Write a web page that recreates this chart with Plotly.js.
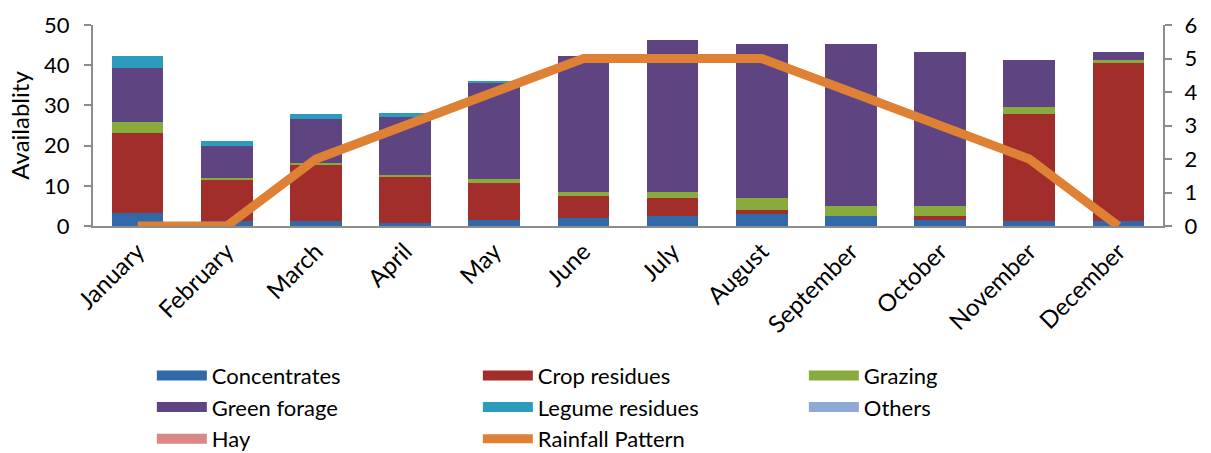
<!DOCTYPE html>
<html>
<head>
<meta charset="utf-8">
<script src="https://cdn.plot.ly/plotly-3.0.1.min.js"></script>
<style>html,body{margin:0;padding:0;background:#fff;}#chart{width:1211px;height:453px;}</style>
</head>
<body>
<div id="chart"></div>
<script>
var months = ["January","February","March","April","May","June","July","August","September","October","November","December"];
var concentrates   = [3.2, 1.2, 1.2, 0.7, 1.4, 1.9, 2.6, 2.9, 2.4, 1.6, 1.2, 1.2];
var cropResidues   = [19.9, 10.2, 13.9, 11.4, 9.2, 5.5, 4.3, 1.0, 0, 1.0, 26.6, 39.3];
var grazing        = [2.7, 0.5, 0.5, 0.7, 1.0, 1.0, 1.5, 3.0, 2.5, 2.5, 1.7, 0.7];
var greenForage    = [13.5, 8.0, 10.9, 14.2, 24.0, 33.8, 37.8, 38.3, 40.3, 38.1, 11.7, 2.0];
var legumeResidues = [2.9, 1.2, 1.3, 1.0, 0.4, 0, 0, 0, 0, 0, 0, 0];
var others         = [0, 0, 0, 0, 0, 0, 0, 0, 0, 0, 0, 0];
var hay            = [0, 0, 0, 0, 0, 0, 0, 0, 0, 0, 0, 0];
var rainfall       = [0, 0, 2, 3, 4, 5, 5, 5, 4, 3, 2, 0];

var seriesNames  = ["Concentrates","Crop residues","Grazing","Green forage","Legume residues","Others","Hay"];
var seriesColors = ["#3168A8","#A22E2C","#89AA3C","#5F4482","#2C9CBD","#8FA9D6","#D98886"];
var seriesValues = [concentrates, cropResidues, grazing, greenForage, legumeResidues, others, hay];

var fontFam = "Lato, 'Open Sans', sans-serif";
var traces = [];
seriesNames.forEach(function (n, i) {
  traces.push({type: "bar", name: n, x: months, y: seriesValues[i], legendgroup: n, showlegend: false,
    marker: {color: seriesColors[i], line: {width: 0}}, hoverinfo: "name+y"});
});
traces.push({type: "scatter", mode: "lines", name: "Rainfall Pattern", x: months, y: rainfall, yaxis: "y2",
  showlegend: false, legendgroup: "rain", line: {color: "#DE8135", width: 9}});
// legend-only entries (wide swatches like the original)
seriesNames.forEach(function (n, i) {
  traces.push({type: "scatter", mode: "lines", name: n, x: [null], y: [null], legendgroup: n,
    line: {color: seriesColors[i], width: 15}, hoverinfo: "skip"});
});
traces.push({type: "scatter", mode: "lines", name: "Rainfall Pattern", x: [null], y: [null], legendgroup: "rain",
  line: {color: "#DE8135", width: 9}, hoverinfo: "skip"});

var axisCol = "#8c8c8c";
var layout = {
  width: 1211, height: 453,
  margin: {l: 93, r: 48, t: 25, b: 227, autoexpand: false},
  barmode: "stack",
  bargap: 0.42,
  paper_bgcolor: "#fff", plot_bgcolor: "#fff",
  font: {family: fontFam, size: 24, color: "#000"},
  showlegend: true,
  legend: {orientation: "h", x: 0.055, xanchor: "left", y: -0.64, yanchor: "top",
           entrywidth: 261, entrywidthmode: "pixels", traceorder: "normal", itemwidth: 50,
           font: {family: fontFam, size: 22, color: "#000"}, tracegroupgap: 0},
  xaxis: {type: "category", tickangle: -45, showline: true, linecolor: axisCol, linewidth: 2, automargin: false,
          ticks: "", showgrid: false, zeroline: false, tickfont: {size: 24}},
  yaxis: {range: [0, 50], dtick: 10, showline: true, linecolor: axisCol, linewidth: 2, automargin: false,
          ticks: "outside", ticklen: 7, tickcolor: axisCol, tickwidth: 2, showgrid: false, zeroline: false,
          ticklabelstandoff: 10,
          title: {text: "Availablity", font: {size: 24}, standoff: 8}, tickfont: {size: 22}},
  yaxis2: {range: [0, 6], dtick: 1, overlaying: "y", side: "right", showline: true, linecolor: axisCol, linewidth: 2,
           automargin: false, ticks: "outside", ticklen: 7, tickcolor: axisCol, tickwidth: 2, showgrid: false,
           ticklabelstandoff: 8, zeroline: false, tickfont: {size: 22}}
};
Plotly.newPlot("chart", traces, layout, {displayModeBar: false, staticPlot: true});
</script>
</body>
</html>
